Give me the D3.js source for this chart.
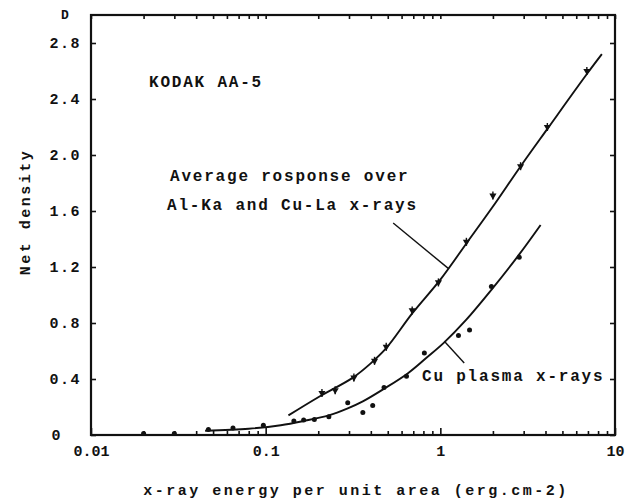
<!DOCTYPE html>
<html>
<head>
<meta charset="utf-8">
<script src="https://cdn.jsdelivr.net/npm/d3@7"></script>
<style>
  body { margin: 0; background: #fff; }
  text { font-family: "Liberation Mono", "DejaVu Sans Mono", monospace; font-weight: bold; fill: #111; }
  .axis path { display: none; }
  .axis line { stroke: #111; stroke-width: 1.6; }
</style>
</head>
<body>
<div id="chart"></div>
<script>
// measured points, upper series (average response over Al-Ka and Cu-La x-rays)
var upperX = [0.21, 0.25, 0.32, 0.42, 0.49, 0.69, 0.975, 1.41, 2.0, 2.88, 4.1, 6.9];
var upperY = [0.30, 0.32, 0.41, 0.53, 0.63, 0.89, 1.09, 1.38, 1.71, 1.92, 2.2, 2.6];

// measured points, lower series (Cu plasma x-rays)
var lowerX = [0.02, 0.03, 0.047, 0.065, 0.097, 0.145, 0.165, 0.19, 0.23, 0.295, 0.36, 0.41, 0.476, 0.64, 0.81, 1.27, 1.47, 1.96, 2.83];
var lowerY = [0.01, 0.01, 0.04, 0.05, 0.07, 0.10, 0.107, 0.11, 0.13, 0.23, 0.16, 0.21, 0.34, 0.42, 0.585, 0.71, 0.75, 1.06, 1.27];

// hand drawn fit curves
var upperFitX = [0.135, 0.2, 0.316, 0.398, 0.49, 0.692, 1.0, 1.413, 1.995, 2.884, 4.12, 6.92, 8.41];
var upperFitY = [0.14, 0.27, 0.41, 0.51, 0.62, 0.87, 1.11, 1.37, 1.63, 1.92, 2.19, 2.58, 2.72];
var lowerFitX = [0.045, 0.08, 0.122, 0.165, 0.23, 0.295, 0.36, 0.476, 0.65, 0.83, 1.05, 1.4, 1.97, 2.83, 3.75];
var lowerFitY = [0.03, 0.045, 0.07, 0.10, 0.14, 0.19, 0.24, 0.33, 0.44, 0.55, 0.66, 0.82, 1.04, 1.29, 1.5];

var yTicks = [0, 0.4, 0.8, 1.2, 1.6, 2.0, 2.4, 2.8];
var yTickLabels = ["0", "0.4", "0.8", "1.2", "1.6", "2.0", "2.4", "2.8"];
var xTicks = [0.01, 0.1, 1, 10];
var xTickLabels = ["0.01", "0.1", "1", "10"];

var margin = {top: 15, right: 17, bottom: 69, left: 91},
  fullWidth = 632, fullHeight = 504,
  width = fullWidth - margin.left - margin.right,
  height = fullHeight - margin.top - margin.bottom;

var xScale = d3.scaleLog().domain([0.01, 10]).range([0, width]);
var yScale = d3.scaleLinear().domain([0, 3.0]).range([height, 0]);

var svg = d3.select("#chart").append("svg")
  .attr("width", fullWidth)
  .attr("height", fullHeight)
  .append("g")
  .attr("transform", "translate(" + margin.left + "," + margin.top + ")");

// minor log ticks: 2..9 in each decade
var minorTicks = [];
[0.01, 0.1, 1].forEach(function (dec) {
  for (var k = 2; k <= 9; k++) minorTicks.push(dec * k);
});

// bottom axis, ticks pointing inward
svg.append("g").attr("class", "axis")
  .attr("transform", "translate(0," + height + ")")
  .call(d3.axisBottom(xScale).tickValues(minorTicks).tickSize(-4).tickFormat(""));
svg.append("g").attr("class", "axis")
  .attr("transform", "translate(0," + height + ")")
  .call(d3.axisBottom(xScale).tickValues(xTicks).tickSize(-7).tickPadding(10)
    .tickFormat(function (d, i) { return xTickLabels[i]; }))
  .selectAll("text").style("font-size", "15px");

// top axis
svg.append("g").attr("class", "axis")
  .call(d3.axisTop(xScale).tickValues(minorTicks.concat(xTicks)).tickSize(-4).tickFormat(""));

// left axis
var leftAxis = svg.append("g").attr("class", "axis")
  .call(d3.axisLeft(yScale).tickValues(yTicks).tickSize(-5).tickPadding(10)
    .tickFormat(function (d, i) { return yTickLabels[i]; }));
leftAxis.selectAll("text").style("font-size", "15px").attr("letter-spacing", "1.5px");
leftAxis.selectAll("text").filter(function (d) { return d === 0; }).attr("x", -29);

// the "D" unit label at the top of the y axis
svg.append("text")
  .attr("x", -30).attr("y", yScale(3.0) + 4)
  .style("font-size", "13px")
  .text("D");

// right axis
svg.append("g").attr("class", "axis")
  .attr("transform", "translate(" + width + ",0)")
  .call(d3.axisRight(yScale).tickValues(yTicks).tickSize(-5).tickFormat(""));

// frame
svg.append("rect")
  .attr("width", width).attr("height", height)
  .attr("fill", "none").attr("stroke", "#111").attr("stroke-width", 2.2);

// fit curves
var line = d3.line()
  .x(function (d) { return xScale(d[0]); })
  .y(function (d) { return yScale(d[1]); })
  .curve(d3.curveCatmullRom.alpha(0.5));

svg.append("path")
  .datum(d3.zip(upperFitX, upperFitY))
  .attr("d", line)
  .attr("fill", "none").attr("stroke", "#111").attr("stroke-width", 1.9);

svg.append("path")
  .datum(d3.zip(lowerFitX, lowerFitY))
  .attr("d", line)
  .attr("fill", "none").attr("stroke", "#111").attr("stroke-width", 1.9);

// points
svg.selectAll(".up")
  .data(d3.zip(upperX, upperY))
  .enter().append("path")
  .attr("class", "up")
  .attr("transform", function (d) { return "translate(" + xScale(d[0]) + "," + yScale(d[1]) + ") rotate(180)"; })
  .attr("d", d3.symbol().type(d3.symbolTriangle).size(22))
  .attr("fill", "#111");

svg.selectAll(".up-err")
  .data(d3.zip(upperX, upperY))
  .enter().append("line")
  .attr("class", "up-err")
  .attr("x1", function (d) { return xScale(d[0]); })
  .attr("x2", function (d) { return xScale(d[0]); })
  .attr("y1", function (d) { return yScale(d[1]) - 4; })
  .attr("y2", function (d) { return yScale(d[1]) + 4; })
  .attr("stroke", "#111").attr("stroke-width", 1.4);

svg.selectAll(".low")
  .data(d3.zip(lowerX, lowerY))
  .enter().append("circle")
  .attr("class", "low")
  .attr("cx", function (d) { return xScale(d[0]); })
  .attr("cy", function (d) { return yScale(d[1]); })
  .attr("r", 2.5)
  .attr("fill", "#111");

// leader lines for the labels
var leaders = [
  [[0.537, 1.514], [1.11, 1.19]],
  [[1.054, 0.67], [1.37, 0.514]]
];
leaders.forEach(function (l) {
  svg.append("line")
    .attr("x1", xScale(l[0][0])).attr("y1", yScale(l[0][1]))
    .attr("x2", xScale(l[1][0])).attr("y2", yScale(l[1][1]))
    .attr("stroke", "#111").attr("stroke-width", 1.4);
});

// annotations
function note(x, y, str) {
  svg.append("text")
    .attr("x", x).attr("y", y)
    .style("font-size", "16px")
    .attr("letter-spacing", "1.8px")
    .text(str);
}
note(149 - margin.left, 87 - margin.top, "KODAK AA-5");
note(170 - margin.left, 181 - margin.top, "Average rosponse over");
note(167 - margin.left, 210 - margin.top, "Al-Ka and Cu-La x-rays");
note(422 - margin.left, 381 - margin.top, "Cu plasma x-rays");

// axis titles
svg.append("text")
  .attr("x", width / 2 + 3)
  .attr("y", height + 60)
  .style("text-anchor", "middle")
  .style("font-size", "15px")
  .attr("letter-spacing", "2.5px")
  .text("x-ray energy per unit area (erg.cm-2)");

svg.append("text")
  .attr("transform", "rotate(-90)")
  .attr("x", -(212 - margin.top))
  .attr("y", 30 - margin.left)
  .style("text-anchor", "middle")
  .style("font-size", "15px")
  .attr("letter-spacing", "2.5px")
  .text("Net density");
</script>
</body>
</html>
